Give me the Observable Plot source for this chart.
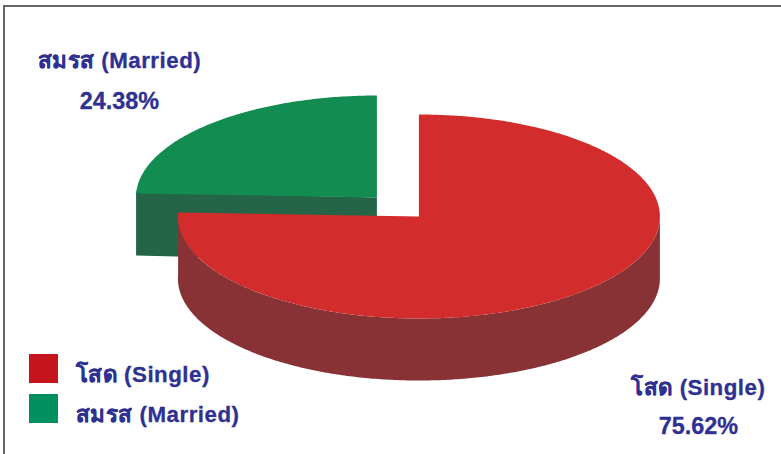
<!DOCTYPE html>
<html>
<head>
<meta charset="utf-8">
<script src="https://cdn.jsdelivr.net/npm/d3@7"></script>
<script src="https://cdn.jsdelivr.net/npm/@observablehq/plot@0.6"></script>
<style>
html,body{margin:0;padding:0;background:#fff;overflow:hidden}
#frame{position:absolute;left:3px;top:5px;width:778px;height:449px;border-left:2px solid #666;border-top:2px solid #666;box-sizing:border-box}
#chart{position:absolute;left:0;top:0}
svg{display:block}
text{white-space:pre}
g.spaced text{letter-spacing:.5px}
</style>
</head>
<body>
<div id="frame"></div>
<div id="chart"></div>
<script>
// Data
const categories = ["โสด (Single)", "สมรส (Married)"];
const shares = [75.62, 24.38];
const shareLabels = ["75.62%", "24.38%"];

// Styles
const topColors = ["#D32C2C", "#128C50"];
const sideColors = ["#883235", "#256547"];
const swatchColors = ["#C5141C", "#00905F"];
const ink = "#2E3192";
const font = "'Liberation Sans', Arial, sans-serif";

// Layout (pixels of the picture)
const W = 781, H = 454;
const rx = 241, ry = 102, depth = 62, marriedDepth = 64;
const centres = [{x: 419, y: 216}, {x: 377, y: 197}];
const labelAt = [{x: 698.5, y: 387, py: 426}, {x: 119.5, y: 60, py: 101}];
const legendAt = [{x: 29, y: 354, tx: 76, ty: 374}, {x: 29, y: 394, tx: 76, ty: 414}];
const swatch = 29;

const arcs = d3.pie().sort(null).value(d => d)(shares);
const point = (c, a, dy = 0) => ({x: c.x + rx * Math.sin(a), y: c.y - ry * Math.cos(a) + dy});
const sweep = (c, a0, a1, dy = 0) => {
  const n = Math.max(2, Math.ceil(Math.abs(a1 - a0) * 90));
  return d3.range(n + 1).map(i => point(c, a0 + (a1 - a0) * i / n, dy));
};

// Single slice (first, clockwise from north)
const sA = arcs[0], mA = arcs[1];
const singleTop = [centres[0], ...sweep(centres[0], sA.startAngle, sA.endAngle)]
  .map(p => ({...p, k: categories[0]}));
const singleSide = [
  ...sweep(centres[0], Math.PI / 2, sA.endAngle),
  ...sweep(centres[0], sA.endAngle, Math.PI / 2, depth)
];
// Married slice, following on to north
const marriedTop = [centres[1], ...sweep(centres[1], mA.startAngle, mA.endAngle)]
  .map(p => ({...p, k: categories[1]}));
const mEdge = point(centres[1], mA.startAngle);
const marriedSide = [
  {x: mEdge.x, y: mEdge.y - 2}, centres[1],
  {x: centres[1].x, y: centres[1].y + marriedDepth}, {x: mEdge.x, y: mEdge.y - 2 + marriedDepth}
];

const poly = (pts, fill) => Plot.line(pts, {x: "x", y: "y", fill, stroke: null, curve: "linear-closed"});

const plot = Plot.plot({
  width: W, height: H,
  margin: 0,
  style: {background: "transparent", fontFamily: font},
  x: {domain: [0, W], range: [-0.6, W - 0.6], axis: null},
  y: {domain: [0, H], range: [0, H], axis: null},
  color: {domain: categories, range: topColors},
  marks: [
    poly(marriedSide, sideColors[1]),
    Plot.line(marriedTop, {x: "x", y: "y", fill: "k", stroke: null, curve: "linear-closed"}),
    poly(singleSide, sideColors[0]),
    Plot.line(singleTop, {x: "x", y: "y", fill: "k", stroke: null, curve: "linear-closed"}),
    // slice labels
    Plot.text(categories, {
      x: (d, i) => labelAt[i].x, y: (d, i) => labelAt[i].y,
      text: d => d, fill: ink, stroke: ink, strokeWidth: 0.3, fontSize: 22.3, fontWeight: "bold",
      textAnchor: "middle", lineAnchor: "middle", className: "spaced"
    }),
    Plot.text(shareLabels, {
      x: (d, i) => labelAt[i].x, y: (d, i) => labelAt[i].py,
      text: d => d, fill: ink, stroke: ink, strokeWidth: 0.3, fontSize: 23.4, fontWeight: "bold",
      textAnchor: "middle", lineAnchor: "middle"
    }),
    // legend
    Plot.rect(categories, {
      x1: (d, i) => legendAt[i].x + 0.6, x2: (d, i) => legendAt[i].x + 0.6 + swatch,
      y1: (d, i) => legendAt[i].y, y2: (d, i) => legendAt[i].y + swatch,
      fill: (d, i) => swatchColors[i], inset: 0
    }),
    Plot.text(categories, {
      x: (d, i) => legendAt[i].tx, y: (d, i) => legendAt[i].ty,
      text: d => d, fill: ink, stroke: ink, strokeWidth: 0.3, fontSize: 22.3, fontWeight: "bold",
      textAnchor: "start", lineAnchor: "middle", className: "spaced"
    })
  ]
});
document.getElementById("chart").appendChild(plot);
</script>
</body>
</html>
